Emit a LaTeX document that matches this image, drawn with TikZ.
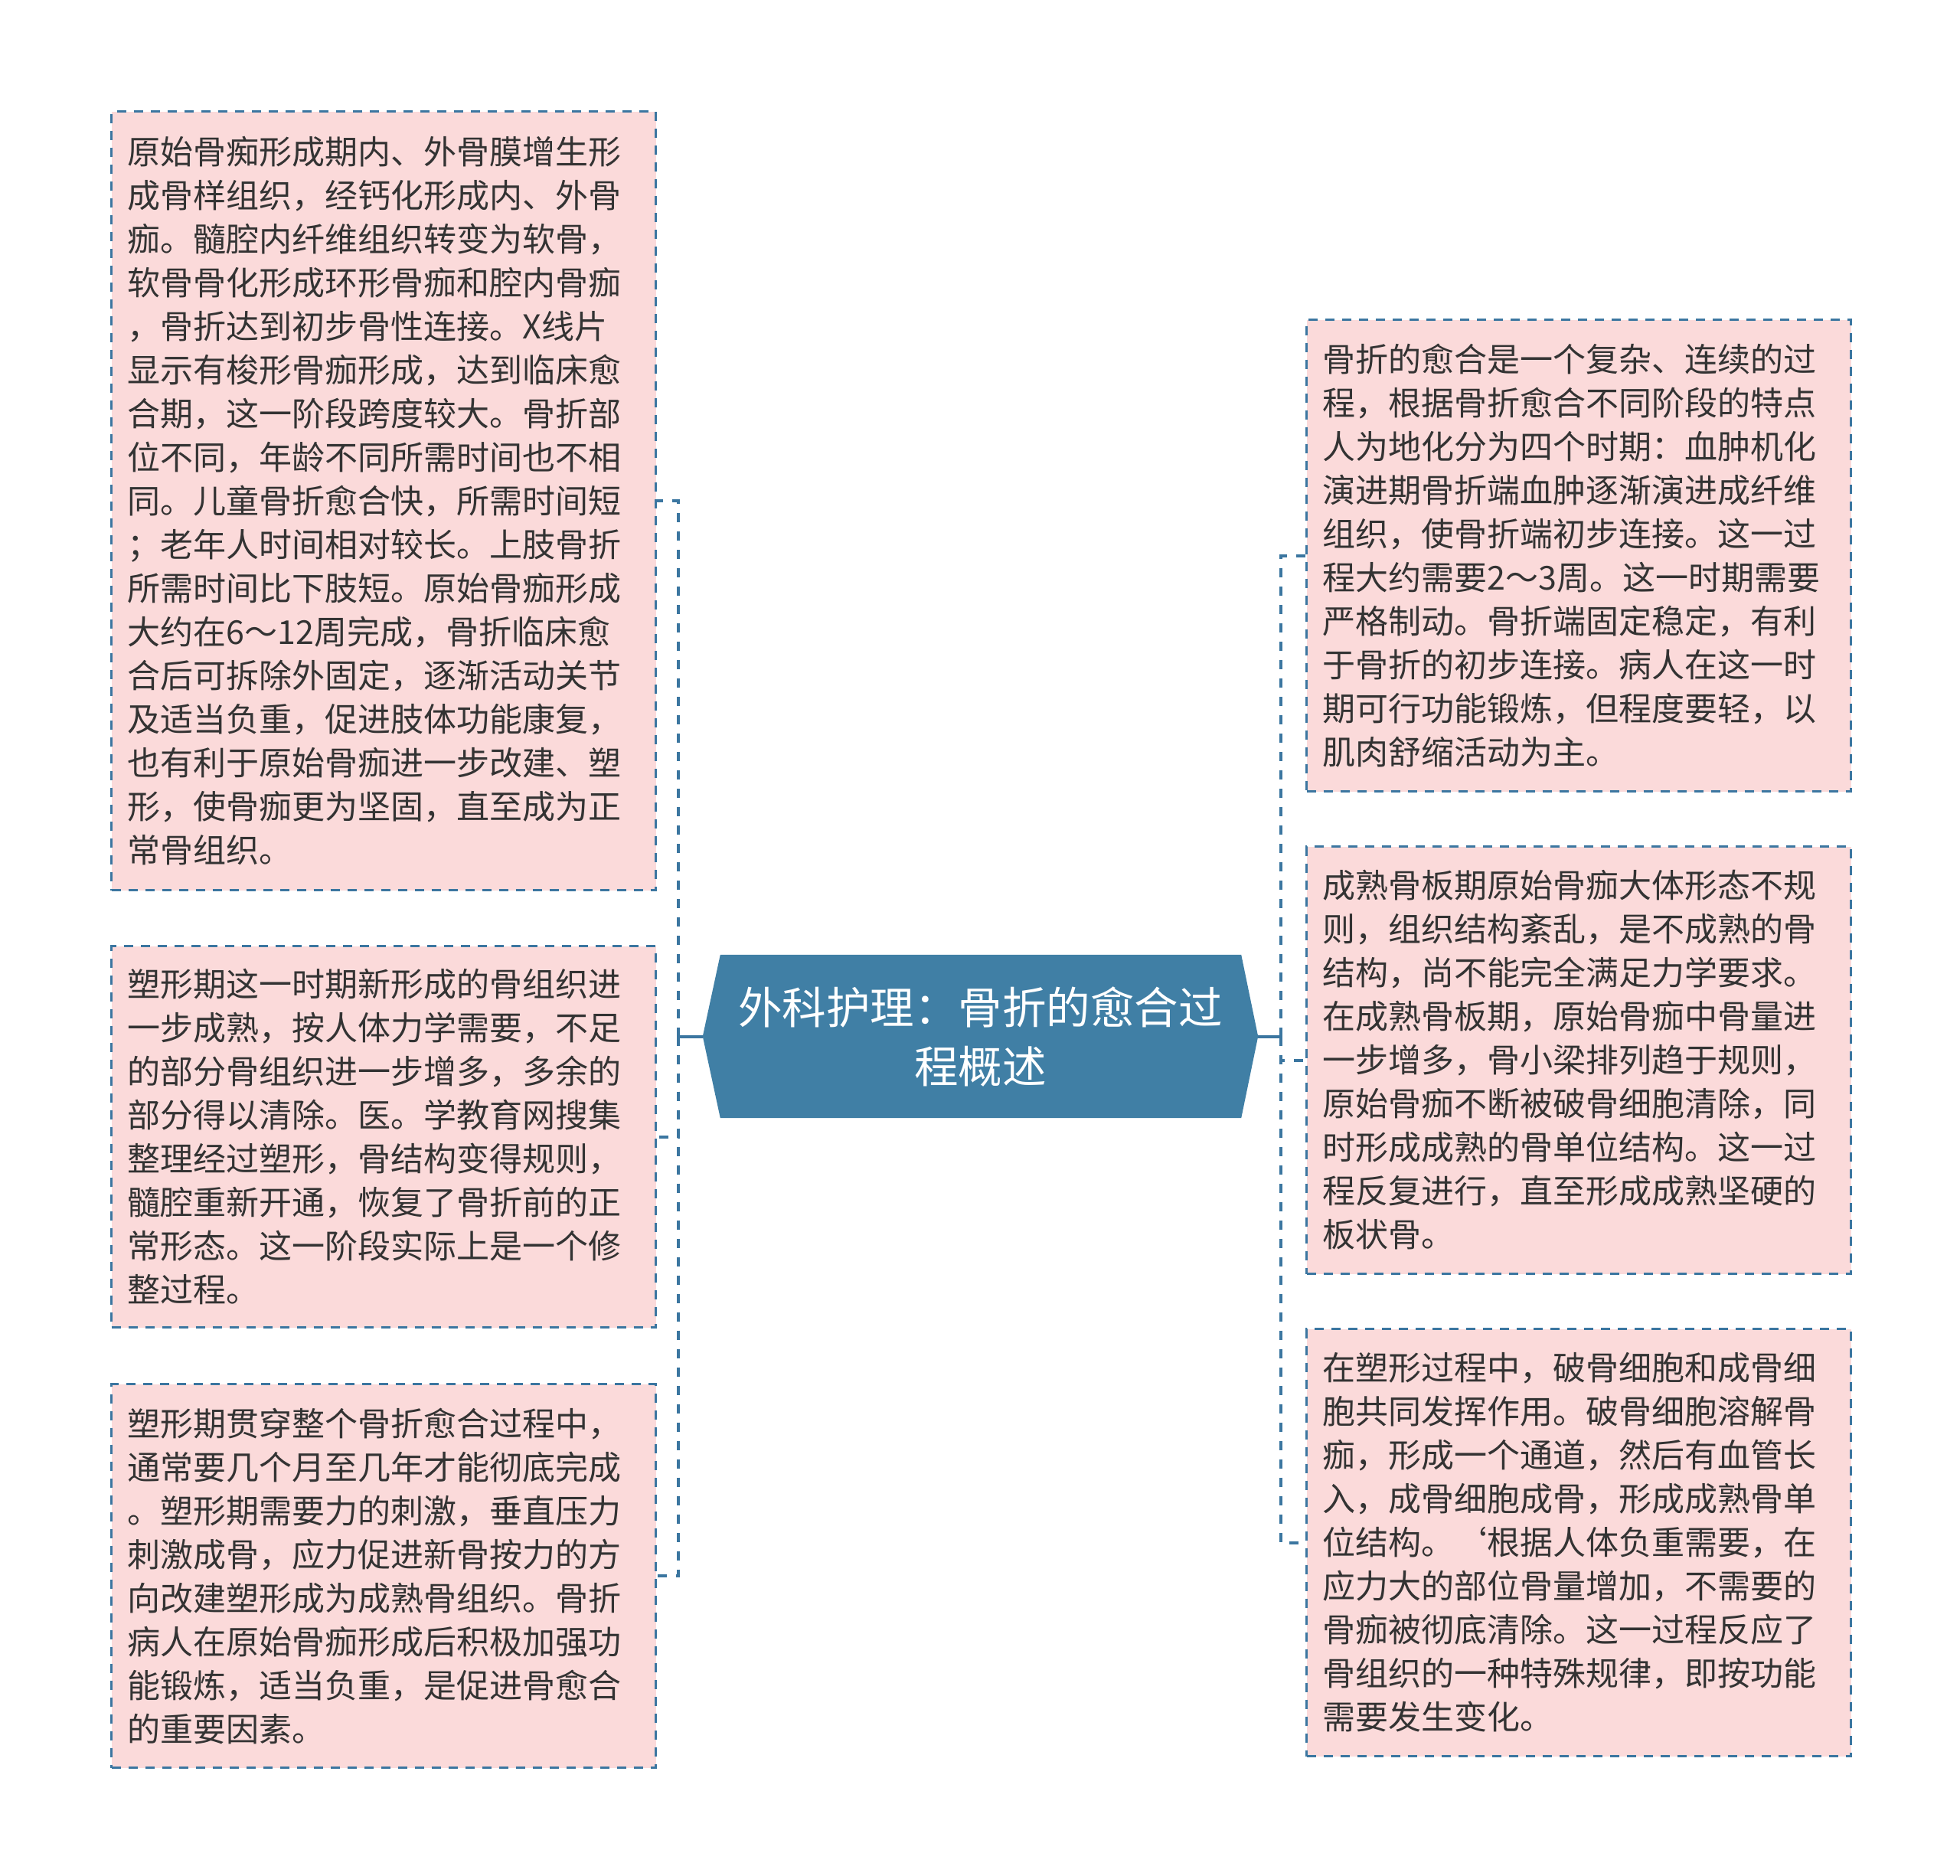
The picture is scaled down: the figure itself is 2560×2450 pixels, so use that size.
\documentclass[tikz,border=0pt]{standalone}
\usepackage{fontspec}
\setmainfont{Noto Sans CJK SC}
\usetikzlibrary{calc,backgrounds}
\definecolor{boxfill}{RGB}{251,218,218}
\definecolor{linecol}{RGB}{59,118,160}
\definecolor{rootfill}{RGB}{64,127,165}
\definecolor{textcol}{RGB}{51,51,51}
\tikzset{
  leaf/.style={draw=linecol, line width=3pt, dash pattern=on 12pt off 10pt,
    fill=boxfill, inner xsep=21pt, inner ysep=20pt, text width=669pt,
    align=left, text=textcol, anchor=north west,
    font=\fontsize{43pt}{57pt}\selectfont},
  rootnode/.style={minimum width=725pt, minimum height=213pt, inner sep=0pt,
    align=center, text=white, font=\fontsize{57.5pt}{77pt}\selectfont},
  conn/.style={draw=linecol, line width=4pt},
  dconn/.style={draw=linecol, line width=4pt, dash pattern=on 12pt off 12pt},
}
\begin{document}
\begin{tikzpicture}[x=1pt,y=-1pt]
\useasboundingbox (0,0) rectangle (2560,2450);

\node[rootnode] (root) at (1280.5,1353.5) {外科护理：骨折的愈合过\\程概述};
\begin{scope}[on background layer]
\fill[rootfill] (root.west) -- ($(root.north west)+(23,0)$) -- ($(root.north east)+(-22,0)$)
  -- (root.east) -- ($(root.south east)+(-22,0)$) -- ($(root.south west)+(23,0)$) -- cycle;
\end{scope}

\node[leaf, minimum height=1017pt] (l1) at (144,144) {原始骨痴形成期内、外骨膜增生形\\
成骨样组织，经钙化形成内、外骨\\
痂。髓腔内纤维组织转变为软骨，\\
软骨骨化形成环形骨痂和腔内骨痂\\
，骨折达到初步骨性连接。X线片\\
显示有梭形骨痂形成，达到临床愈\\
合期，这一阶段跨度较大。骨折部\\
位不同，年龄不同所需时间也不相\\
同。儿童骨折愈合快，所需时间短\\
；老年人时间相对较长。上肢骨折\\
所需时间比下肢短。原始骨痂形成\\
大约在6～12周完成，骨折临床愈\\
合后可拆除外固定，逐渐活动关节\\
及适当负重，促进肢体功能康复，\\
也有利于原始骨痂进一步改建、塑\\
形，使骨痂更为坚固，直至成为正\\
常骨组织。};

\node[leaf, minimum height=498pt] (l2) at (144,1234) {塑形期这一时期新形成的骨组织进\\
一步成熟，按人体力学需要，不足\\
的部分骨组织进一步增多，多余的\\
部分得以清除。医。学教育网搜集\\
整理经过塑形，骨结构变得规则，\\
髓腔重新开通，恢复了骨折前的正\\
常形态。这一阶段实际上是一个修\\
整过程。};

\node[leaf, minimum height=501pt] (l3) at (144,1806) {塑形期贯穿整个骨折愈合过程中，\\
通常要几个月至几年才能彻底完成\\
。塑形期需要力的刺激，垂直压力\\
刺激成骨，应力促进新骨按力的方\\
向改建塑形成为成熟骨组织。骨折\\
病人在原始骨痂形成后积极加强功\\
能锻炼，适当负重，是促进骨愈合\\
的重要因素。};

\node[leaf, minimum height=616pt] (r1) at (1705,416) {骨折的愈合是一个复杂、连续的过\\
程，根据骨折愈合不同阶段的特点\\
人为地化分为四个时期：血肿机化\\
演进期骨折端血肿逐渐演进成纤维\\
组织，使骨折端初步连接。这一过\\
程大约需要2～3周。这一时期需要\\
严格制动。骨折端固定稳定，有利\\
于骨折的初步连接。病人在这一时\\
期可行功能锻炼，但程度要轻，以\\
肌肉舒缩活动为主。};

\node[leaf, minimum height=558pt] (r2) at (1705,1104) {成熟骨板期原始骨痂大体形态不规\\
则，组织结构紊乱，是不成熟的骨\\
结构，尚不能完全满足力学要求。\\
在成熟骨板期，原始骨痂中骨量进\\
一步增多，骨小梁排列趋于规则，\\
原始骨痂不断被破骨细胞清除，同\\
时形成成熟的骨单位结构。这一过\\
程反复进行，直至形成成熟坚硬的\\
板状骨。};

\node[leaf, minimum height=558pt] (r3) at (1705,1734) {在塑形过程中，破骨细胞和成骨细\\
胞共同发挥作用。破骨细胞溶解骨\\
痂，形成一个通道，然后有血管长\\
入，成骨细胞成骨，形成成熟骨单\\
位结构。‘根据人体负重需要，在\\
应力大的部位骨量增加，不需要的\\
骨痂被彻底清除。这一过程反应了\\
骨组织的一种特殊规律，即按功能\\
需要发生变化。};

\coordinate (jl) at (886,1353.5);
\coordinate (jr) at (1673,1353.5);

\draw[conn] (root.west) -- (jl);
\draw[conn] (root.east) -- (jr);
\draw[dconn] (jl) |- (l1.east);
\draw[dconn] (jl) |- (l2.east);
\draw[dconn] (jl) |- (l3.east);
\draw[dconn] (jr) |- (r1.west);
\draw[dconn] (jr) |- (r2.west);
\draw[dconn] (jr) |- (r3.west);
\end{tikzpicture}
\end{document}
